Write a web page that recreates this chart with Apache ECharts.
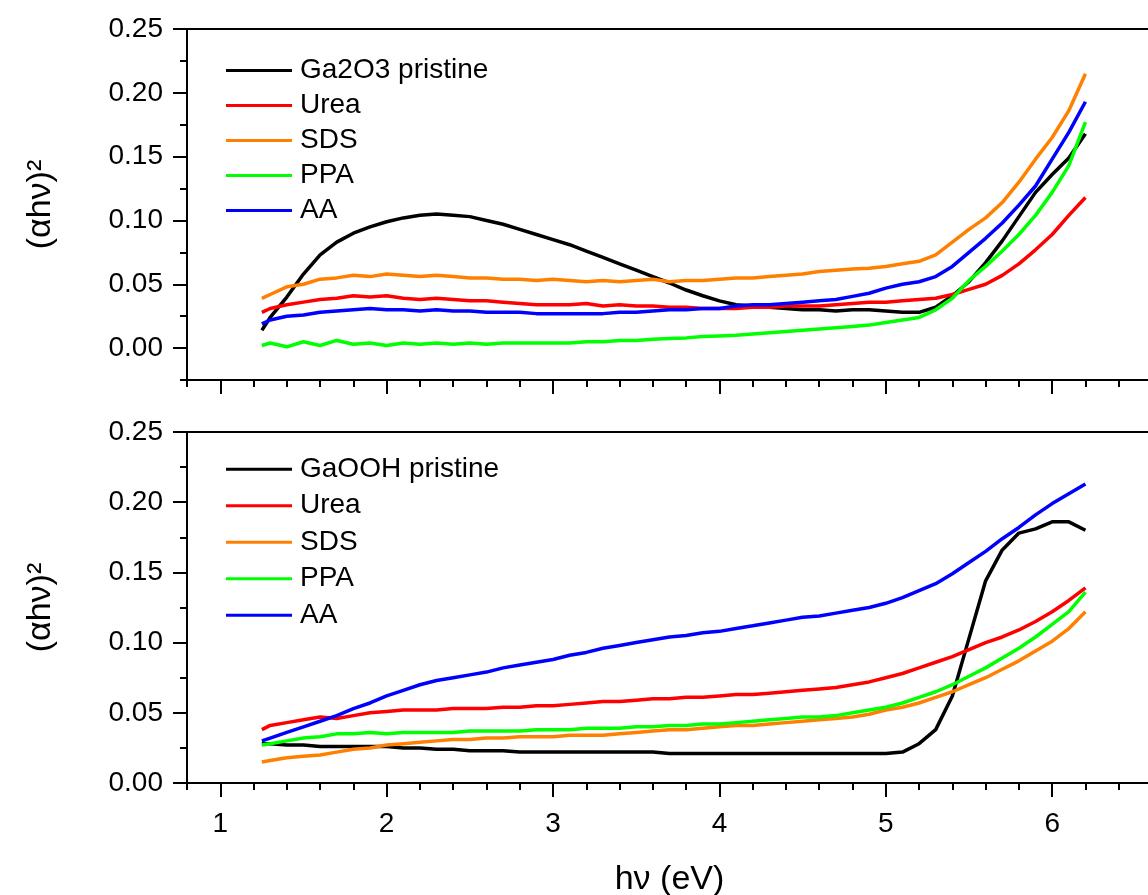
<!DOCTYPE html>
<html>
<head>
<meta charset="utf-8">
<title>(αhν)² vs hν</title>
<script src="https://cdn.jsdelivr.net/npm/echarts@6/dist/echarts.min.js"></script>
<style>
  html, body { margin: 0; padding: 0; background: #fff; }
  #chart { width: 1148px; height: 895px; }
</style>
</head>
<body>
<div id="chart"></div>
<script>
// photon energy (eV), shared by every curve
var hv = [1.25, 1.3, 1.4, 1.5, 1.6, 1.7, 1.8, 1.9, 2.0, 2.1, 2.2, 2.3, 2.4, 2.5, 2.6, 2.7, 2.8, 2.9, 3.0,
          3.1, 3.2, 3.3, 3.4, 3.5, 3.6, 3.7, 3.8, 3.9, 4.0, 4.1, 4.2, 4.3, 4.4, 4.5, 4.6, 4.7, 4.8, 4.9, 5.0,
          5.1, 5.2, 5.3, 5.4, 5.5, 5.6, 5.7, 5.8, 5.9, 6.0, 6.1, 6.2];

var xTicks = [1, 2, 3, 4, 5, 6];
var yTicks = [0, 0.05, 0.10, 0.15, 0.20, 0.25];

// top panel : Ga2O3
var topNames = ['Ga2O3 pristine', 'Urea', 'SDS', 'PPA', 'AA'];
var topPristine = [0.014, 0.024, 0.040, 0.058, 0.073, 0.083, 0.090, 0.095, 0.099, 0.102, 0.104, 0.105, 0.104, 0.103, 0.100, 0.097, 0.093, 0.089, 0.085,
                   0.081, 0.076, 0.071, 0.066, 0.061, 0.056, 0.051, 0.0455, 0.041, 0.037, 0.034, 0.033, 0.032, 0.031, 0.030, 0.030, 0.029, 0.030, 0.030, 0.029,
                   0.028, 0.028, 0.032, 0.041, 0.052, 0.067, 0.084, 0.103, 0.122, 0.136, 0.149, 0.168];
var topUrea = [0.028, 0.031, 0.034, 0.036, 0.038, 0.039, 0.041, 0.040, 0.041, 0.039, 0.038, 0.039, 0.038, 0.037, 0.037, 0.036, 0.035, 0.034, 0.034,
               0.034, 0.035, 0.033, 0.034, 0.033, 0.033, 0.032, 0.032, 0.031, 0.031, 0.031, 0.032, 0.032, 0.033, 0.033, 0.033, 0.034, 0.035, 0.036, 0.036,
               0.037, 0.038, 0.039, 0.042, 0.046, 0.050, 0.057, 0.066, 0.077, 0.089, 0.104, 0.118];
var topSDS = [0.039, 0.042, 0.048, 0.050, 0.054, 0.055, 0.057, 0.056, 0.058, 0.057, 0.056, 0.057, 0.056, 0.055, 0.055, 0.054, 0.054, 0.053, 0.054,
              0.053, 0.052, 0.053, 0.052, 0.053, 0.054, 0.052, 0.053, 0.053, 0.054, 0.055, 0.055, 0.056, 0.057, 0.058, 0.060, 0.061, 0.062, 0.0625, 0.064,
              0.066, 0.068, 0.073, 0.083, 0.093, 0.102, 0.114, 0.130, 0.148, 0.165, 0.186, 0.215];
var topPPA = [0.002, 0.004, 0.001, 0.005, 0.002, 0.006, 0.003, 0.004, 0.002, 0.004, 0.003, 0.004, 0.003, 0.004, 0.003, 0.004, 0.004, 0.004, 0.004,
              0.004, 0.005, 0.005, 0.006, 0.006, 0.007, 0.0075, 0.008, 0.009, 0.0095, 0.010, 0.011, 0.012, 0.013, 0.014, 0.015, 0.016, 0.017, 0.018, 0.020,
              0.022, 0.024, 0.030, 0.039, 0.053, 0.064, 0.076, 0.089, 0.104, 0.122, 0.143, 0.177];
var topAA = [0.019, 0.022, 0.025, 0.026, 0.028, 0.029, 0.030, 0.031, 0.030, 0.030, 0.029, 0.030, 0.029, 0.029, 0.028, 0.028, 0.028, 0.027, 0.027,
             0.027, 0.027, 0.027, 0.028, 0.028, 0.029, 0.030, 0.030, 0.031, 0.031, 0.033, 0.034, 0.034, 0.035, 0.036, 0.037, 0.038, 0.0405, 0.043, 0.047,
             0.050, 0.052, 0.056, 0.064, 0.075, 0.086, 0.098, 0.112, 0.127, 0.148, 0.169, 0.193];

// bottom panel : GaOOH
var botNames = ['GaOOH pristine', 'Urea', 'SDS', 'PPA', 'AA'];
var botPristine = [0.028, 0.028, 0.027, 0.027, 0.026, 0.026, 0.026, 0.026, 0.026, 0.025, 0.025, 0.024, 0.024, 0.023, 0.023, 0.023, 0.022, 0.022, 0.022,
                   0.022, 0.022, 0.022, 0.022, 0.022, 0.022, 0.021, 0.021, 0.021, 0.021, 0.021, 0.021, 0.021, 0.021, 0.021, 0.021, 0.021, 0.021, 0.021, 0.021,
                   0.022, 0.028, 0.038, 0.062, 0.103, 0.144, 0.166, 0.178, 0.181, 0.186, 0.186, 0.180];
var botUrea = [0.038, 0.041, 0.043, 0.045, 0.047, 0.046, 0.048, 0.050, 0.051, 0.052, 0.052, 0.052, 0.053, 0.053, 0.053, 0.054, 0.054, 0.055, 0.055,
               0.056, 0.057, 0.058, 0.058, 0.059, 0.060, 0.060, 0.061, 0.061, 0.062, 0.063, 0.063, 0.064, 0.065, 0.066, 0.067, 0.068, 0.070, 0.072, 0.075,
               0.078, 0.082, 0.086, 0.090, 0.095, 0.100, 0.104, 0.109, 0.115, 0.122, 0.130, 0.139];
var botSDS = [0.015, 0.016, 0.018, 0.019, 0.020, 0.022, 0.024, 0.025, 0.027, 0.028, 0.029, 0.030, 0.031, 0.031, 0.032, 0.032, 0.033, 0.033, 0.033,
              0.034, 0.034, 0.034, 0.035, 0.036, 0.037, 0.038, 0.038, 0.039, 0.040, 0.041, 0.041, 0.042, 0.043, 0.044, 0.045, 0.046, 0.047, 0.049, 0.052,
              0.054, 0.057, 0.061, 0.065, 0.070, 0.075, 0.081, 0.087, 0.094, 0.101, 0.110, 0.122];
var botPPA = [0.027, 0.028, 0.030, 0.032, 0.033, 0.035, 0.035, 0.036, 0.035, 0.036, 0.036, 0.036, 0.036, 0.037, 0.037, 0.037, 0.037, 0.038, 0.038,
              0.038, 0.039, 0.039, 0.039, 0.040, 0.040, 0.041, 0.041, 0.042, 0.042, 0.043, 0.044, 0.045, 0.046, 0.047, 0.047, 0.048, 0.050, 0.052, 0.054,
              0.057, 0.061, 0.065, 0.070, 0.076, 0.082, 0.089, 0.096, 0.104, 0.113, 0.122, 0.136];
var botAA = [0.030, 0.032, 0.036, 0.040, 0.044, 0.048, 0.053, 0.057, 0.062, 0.066, 0.070, 0.073, 0.075, 0.077, 0.079, 0.082, 0.084, 0.086, 0.088,
             0.091, 0.093, 0.096, 0.098, 0.100, 0.102, 0.104, 0.105, 0.107, 0.108, 0.110, 0.112, 0.114, 0.116, 0.118, 0.119, 0.121, 0.123, 0.125, 0.128,
             0.132, 0.137, 0.142, 0.149, 0.157, 0.165, 0.174, 0.182, 0.191, 0.199, 0.206, 0.213];

var colors = ['#000000', '#ff0000', '#ff8000', '#00ff00', '#0000ff'];
var FONT = '"Liberation Sans", Arial, sans-serif';

var chart = echarts.init(document.getElementById('chart'));

function pairs(arr) {
    return hv.map(function (x, i) { return [x, arr[i]]; });
}

// minor ticks every 0.2 eV, counted from min; labels only on whole eV
function minorX(grid, labels) {
    var ax = {
        type: 'value', gridIndex: grid, min: 0.8, max: 6.6, interval: 0.2,
        axisLine: { onZero: false, lineStyle: { color: '#000', width: 2 } },
        axisTick: { show: true, length: 7, lineStyle: { color: '#000', width: 2 } },
        axisLabel: {
            show: labels, margin: 27, fontSize: 28, color: '#000', fontFamily: FONT,
            showMinLabel: true, showMaxLabel: true,
            formatter: function (v) {
                var r = Math.round(v);
                return Math.abs(v - r) < 1e-6 ? String(r) : '';
            }
        },
        splitLine: { show: false }
    };
    if (labels) {
        ax.name = 'hν (eV)';
        ax.nameLocation = 'middle';
        ax.nameGap = 80;
        ax.nameTextStyle = { fontSize: 34, color: '#000', fontFamily: FONT };
    }
    return ax;
}
// longer ticks at whole eV
function majorX(grid) {
    return {
        type: 'value', gridIndex: grid, min: 0.8, max: 6.6, position: 'bottom',
        axisLine: { show: false, onZero: false },
        axisTick: { show: true, length: 14, customValues: xTicks, lineStyle: { color: '#000', width: 2 } },
        axisLabel: { show: false },
        splitLine: { show: false }
    };
}
function minorY(grid, min) {
    return {
        type: 'value', gridIndex: grid, min: min, max: 0.25, interval: 0.025, position: 'left',
        name: '(αhν)²', nameLocation: 'middle', nameGap: 129, nameRotate: 90,
        nameTextStyle: { fontSize: 34, color: '#000', fontFamily: FONT },
        axisLine: { show: true, lineStyle: { color: '#000', width: 2 } },
        axisTick: { show: true, length: 7, lineStyle: { color: '#000', width: 2 } },
        axisLabel: { show: false },
        splitLine: { show: false }
    };
}
function majorY(grid, min) {
    return {
        type: 'value', gridIndex: grid, min: min, max: 0.25, position: 'left',
        axisLine: { show: false },
        axisTick: { show: true, length: 14, customValues: yTicks, lineStyle: { color: '#000', width: 2 } },
        axisLabel: {
            customValues: yTicks, margin: 24, fontSize: 28, color: '#000', fontFamily: FONT,
            formatter: function (v) { return v.toFixed(2); }
        },
        splitLine: { show: false }
    };
}

var topData = [topPristine, topUrea, topSDS, topPPA, topAA];
var botData = [botPristine, botUrea, botSDS, botPPA, botAA];
var series = [];
topData.forEach(function (arr, i) {
    series.push({
        name: topNames[i], type: 'line', xAxisIndex: 0, yAxisIndex: 0,
        data: pairs(arr), symbol: 'none', color: colors[i],
        lineStyle: { width: 3.5, color: colors[i] }
    });
});
botData.forEach(function (arr, i) {
    series.push({
        name: botNames[i], type: 'line', xAxisIndex: 2, yAxisIndex: 2,
        data: pairs(arr), symbol: 'none', color: colors[i],
        lineStyle: { width: 3.5, color: colors[i] }
    });
});

function legend(names, top, lh) {
    return {
        data: names, orient: 'vertical', left: 226, top: top, itemGap: 0, padding: 0,
        icon: 'rect', itemWidth: 66, itemHeight: 3, selectedMode: false,
        textStyle: { fontSize: 28, color: '#000', fontFamily: FONT, lineHeight: lh, padding: [0, 0, 0, 3] }
    };
}

var option = {
    animation: false,
    backgroundColor: '#fff',
    grid: [
        { left: 187, top: 29, width: 965, height: 351, outerBoundsMode: 'none', containLabel: false,
          show: true, borderColor: '#000', borderWidth: 2 },
        { left: 187, top: 432, width: 965, height: 351, outerBoundsMode: 'none', containLabel: false,
          show: true, borderColor: '#000', borderWidth: 2 }
    ],
    xAxis: [minorX(0, false), majorX(0), minorX(1, true), majorX(1)],
    yAxis: [minorY(0, -0.025), majorY(0, -0.025), minorY(1, 0), majorY(1, 0)],
    legend: [legend(topNames, 53, 35), legend(botNames, 451, 36.5)],
    series: series
};

chart.setOption(option);
</script>
</body>
</html>
